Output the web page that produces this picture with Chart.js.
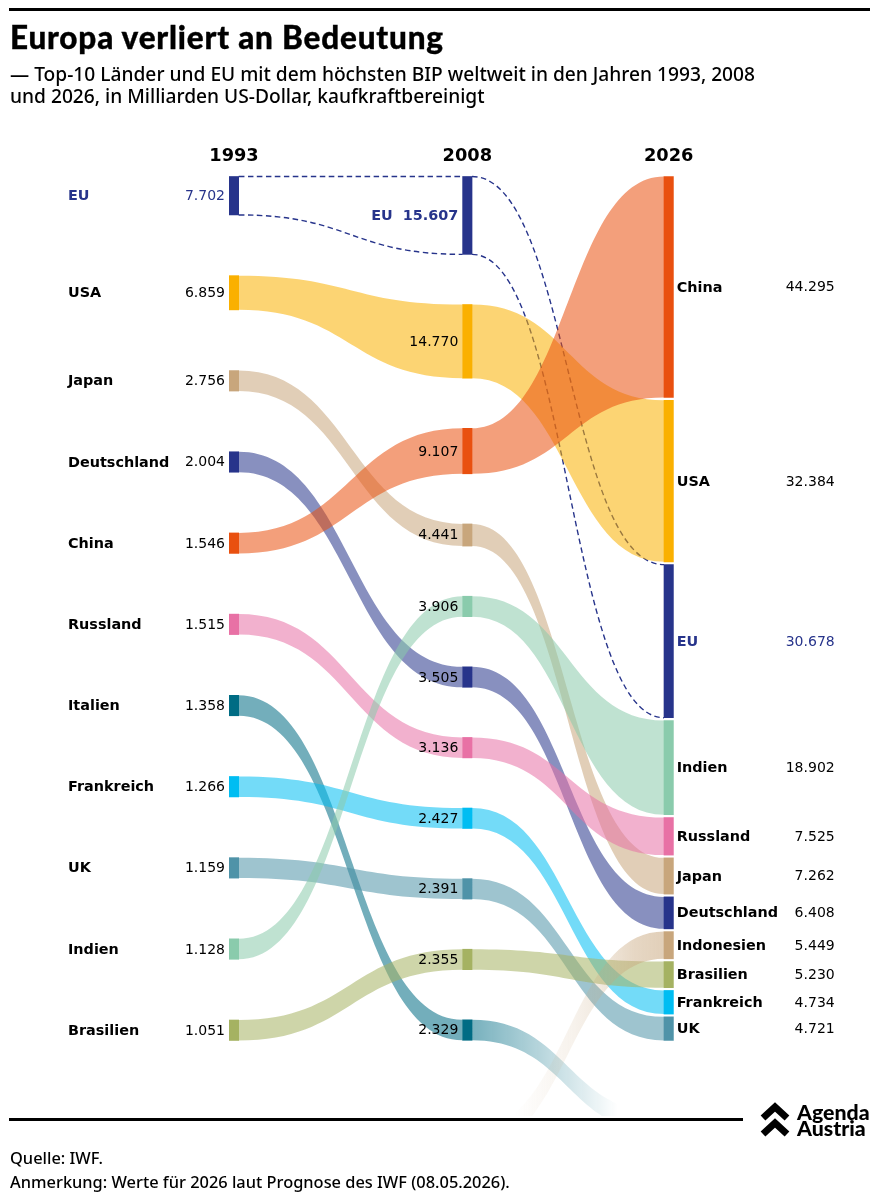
<!DOCTYPE html>
<html lang="de">
<head>
<meta charset="utf-8">
<title>Europa verliert an Bedeutung</title>
<script src="https://cdn.jsdelivr.net/npm/chart.js@4/dist/chart.umd.js"></script>
<style>
  html, body { margin: 0; padding: 0; background: #fff; }
  body { position: relative; width: 879px; height: 1200px; overflow: hidden; font-family: "Noto Sans", sans-serif; color: #000; }
  canvas { position: absolute; left: 0; top: 0; }
  .rule { position: absolute; background: #000; height: 3px; }
  .txt { position: absolute; white-space: nowrap; }
  h1 { position: absolute; left: 10px; top: 18px; margin: 0; font-family: Lato, sans-serif; font-size: 31.5px; letter-spacing: 0.8px; line-height: 38px; font-weight: 900; -webkit-text-stroke: 0.35px #000; white-space: nowrap; }
  .sub { left: 10px; top: 63px; font-size: 19.18px; line-height: 21.5px; font-weight: 500; }
  .foot { left: 10px; font-size: 16.4px; line-height: 20px; font-weight: 500; }
  .brand { left: 797px; top: 1105px; font-family: Lato, sans-serif; font-size: 21.3px; line-height: 15.5px; font-weight: 900; }
</style>
</head>
<body>
<canvas id="chart" width="879" height="1200"></canvas>
<div class="rule" style="left:9px;top:8px;width:861px"></div>
<h1>Europa verliert an Bedeutung</h1>
<div class="txt sub">— Top-10 Länder und EU mit dem höchsten BIP weltweit in den Jahren 1993, 2008<br>und 2026, in Milliarden US-Dollar, kaufkraftbereinigt</div>
<div class="rule" style="left:9px;top:1118px;width:734px"></div>
<svg style="position:absolute;left:755px;top:1098px" width="40" height="42" fill="none" stroke="#000" stroke-width="7">
  <polyline points="8,20 20,9 32,20"/>
  <polyline points="8,36 20,25 32,36"/>
</svg>
<div class="txt brand">Agenda<br>Austria</div>
<div class="txt foot" style="top:1148px">Quelle: IWF.</div>
<div class="txt foot" style="top:1172px">Anmerkung: Werte für 2026 laut Prognose des IWF (08.05.2026).</div>
<script>
const years = ["1993", "2008", "2026"]

const countries1993 = ["EU", "USA", "Japan", "Deutschland", "China", "Russland", "Italien", "Frankreich", "UK", "Indien", "Brasilien"]
const values1993 = [7702, 6859, 2756, 2004, 1546, 1515, 1358, 1266, 1159, 1128, 1051]

const countries2008 = ["EU", "USA", "China", "Japan", "Indien", "Deutschland", "Russland", "Frankreich", "UK", "Brasilien", "Italien"]
const values2008 = [15607, 14770, 9107, 4441, 3906, 3505, 3136, 2427, 2391, 2355, 2329]

const countries2026 = ["China", "USA", "EU", "Indien", "Russland", "Japan", "Deutschland", "Indonesien", "Brasilien", "Frankreich", "UK"]
const values2026 = [44295, 32384, 30678, 18902, 7525, 7262, 6408, 5449, 5230, 4734, 4721]

// colours by country
const colors = {
  EU: "#27348b", USA: "#fab000", Japan: "#c8a67c", Deutschland: "#27348b",
  China: "#e9500f", Russland: "#e871a5", Italien: "#006c84", Frankreich: "#00bdf2",
  UK: "#4f93a8", Indien: "#8acbac", Brasilien: "#a5b262", Indonesien: "#c8a67c"
}

// layout, in y scale units
const minNode = 4100                    // small nodes are drawn with this height
const gaps = [12170, 10050, 556]        // free space between nodes of a column
const columnX = [0, 1, 1.863]           // uneven on purpose, like the original
const offChart = {                      // rows that run out of the picture
  Italien: { col: 2, top: 187750, bottom: 191850 },
  Indonesien: { col: 1, top: 191000, bottom: 195100 }
}

const NODE_W = 9.4
const RIBBON_ALPHA = 0.55

function stack(names, values, gap) {
  let y = 0
  let out = {}
  for (let i = 0; i < names.length; i++) {
    const h = Math.max(values[i], minNode)
    out[names[i]] = { top: y, bottom: y + h, value: values[i] }
    y += h + gap
  }
  return out
}

const columns = [
  stack(countries1993, values1993, gaps[0]),
  stack(countries2008, values2008, gaps[1]),
  stack(countries2026, values2026, gaps[2])
]

function rgba(hex, a) {
  const n = parseInt(hex.slice(1), 16)
  return "rgba(" + (n >> 16) + "," + ((n >> 8) & 255) + "," + (n & 255) + "," + a + ")"
}

function formatValue(v) {
  return String(v).replace(/\B(?=(\d{3})+$)/g, ".")
}

function edge(ctx, x0, y0, x1, y1, move) {
  const mid = (x0 + x1) / 2
  if (move) ctx.moveTo(x0, y0)
  else ctx.lineTo(x0, y0)
  ctx.bezierCurveTo(mid, y0, mid, y1, x1, y1)
}

// one ribbon between two neighbouring columns
function drawRibbon(chart, name, col, fill) {
  const x = chart.scales.x, y = chart.scales.y, ctx = chart.ctx
  const a = columns[col][name] || offChart[name]
  const b = columns[col + 1][name] || offChart[name]
  if (!a || !b) return
  const x0 = x.getPixelForValue(columnX[col]) + NODE_W / 2
  const x1 = x.getPixelForValue(columnX[col + 1]) - NODE_W / 2
  if (name == "EU") {
    ctx.save()
    ctx.strokeStyle = colors.EU
    ctx.lineWidth = 1.4
    ctx.setLineDash([5.5, 3.5])
    ctx.beginPath()
    edge(ctx, x0, y.getPixelForValue(a.top), x1, y.getPixelForValue(b.top), true)
    edge(ctx, x0, y.getPixelForValue(a.bottom), x1, y.getPixelForValue(b.bottom), true)
    ctx.stroke()
    ctx.restore()
    return
  }
  ctx.beginPath()
  edge(ctx, x0, y.getPixelForValue(a.top), x1, y.getPixelForValue(b.top), true)
  // back along the lower edge
  const mid = (x0 + x1) / 2
  ctx.lineTo(x1, y.getPixelForValue(b.bottom))
  ctx.bezierCurveTo(mid, y.getPixelForValue(b.bottom), mid, y.getPixelForValue(a.bottom), x0, y.getPixelForValue(a.bottom))
  ctx.closePath()
  ctx.fillStyle = fill
  ctx.fill()
}

const ribbonPlugin = {
  id: "ribbons",
  beforeDatasetsDraw(chart) {
    const ctx = chart.ctx, area = chart.chartArea, x = chart.scales.x
    ctx.save()
    ctx.beginPath()
    ctx.rect(0, area.top - 2, chart.width, area.bottom - area.top + 2)
    ctx.clip()
    for (const col of [0, 1]) {
      const names = [countries1993, countries2008][col].slice()
      if (col == 1) names.push("Indonesien")
      for (const name of names) {
        let fill = rgba(colors[name], RIBBON_ALPHA)
        if (col == 1 && name == "Italien") {
          const left = x.getPixelForValue(columnX[1])
          const g = ctx.createLinearGradient(left, 0, left + 150, 0)
          g.addColorStop(0, rgba(colors[name], RIBBON_ALPHA))
          g.addColorStop(1, rgba(colors[name], 0))
          fill = g
        }
        if (col == 1 && name == "Indonesien") {
          const right = x.getPixelForValue(columnX[2])
          const g = ctx.createLinearGradient(right, 0, right - 155, 0)
          g.addColorStop(0, rgba(colors[name], RIBBON_ALPHA))
          g.addColorStop(0.22, rgba(colors[name], 0.45))
          g.addColorStop(0.43, rgba(colors[name], 0.25))
          g.addColorStop(0.6, rgba(colors[name], 0.15))
          g.addColorStop(1, rgba(colors[name], 0))
          fill = g
        }
        drawRibbon(chart, name, col, fill)
      }
    }
    ctx.restore()
  }
}

const labelPlugin = {
  id: "nodeLabels",
  afterDatasetsDraw(chart) {
    const ctx = chart.ctx, x = chart.scales.x, y = chart.scales.y
    const bold = "bold 14.4px 'DejaVu Sans'"
    const plain = "14px 'DejaVu Sans'"
    ctx.save()
    ctx.textBaseline = "middle"
    columns.forEach(function(col, c) {
      const px = x.getPixelForValue(columnX[c])
      for (const name in col) {
        const node = col[name]
        const py = (y.getPixelForValue(node.top) + y.getPixelForValue(node.bottom)) / 2 + 0.8
        const isEU = name == "EU"
        ctx.fillStyle = isEU ? colors.EU : "#000"
        if (c == 0) {
          ctx.textAlign = "left"
          ctx.font = bold
          ctx.fillText(name, px - 166, py)
          ctx.textAlign = "right"
          ctx.font = plain
          ctx.fillText(formatValue(node.value), px - 9, py)
        } else if (c == 1) {
          ctx.textAlign = "right"
          ctx.font = isEU ? bold : plain
          ctx.fillText((isEU ? "EU  " : "") + formatValue(node.value), px - 9, py)
        } else {
          ctx.textAlign = "left"
          ctx.font = bold
          ctx.fillText(name, px + 8, py)
          ctx.textAlign = "right"
          ctx.font = plain
          ctx.fillText(formatValue(node.value), px + 166, py)
        }
      }
    })
    ctx.restore()
  }
}

const datasets = columns.map(function(col, c) {
  const names = Object.keys(col)
  return {
    label: years[c],
    data: names.map(function(n) {
      return { x: columnX[c], y: [col[n].top, col[n].bottom] }
    }),
    backgroundColor: names.map(function(n) { return colors[n] }),
    barThickness: NODE_W,
    grouped: false,
    clip: false
  }
})

new Chart(document.getElementById("chart"), {
  type: "bar",
  data: { datasets: datasets },
  plugins: [ribbonPlugin, labelPlugin],
  options: {
    responsive: false,
    animation: false,
    devicePixelRatio: 1,
    layout: {
      autoPadding: false,
      padding: { top: 146.5, bottom: 84, left: 234, right: 210.3 }
    },
    plugins: {
      legend: { display: false },
      title: { display: false },
      tooltip: { enabled: false }
    },
    scales: {
      x: {
        type: "linear",
        position: "top",
        offset: false,
        min: columnX[0],
        max: columnX[2],
        grid: { display: false, drawTicks: false },
        border: { display: false },
        afterFit: function(scale) { scale.height = 30 },
        afterBuildTicks: function(scale) {
          scale.ticks = columnX.map(function(v) { return { value: v } })
        },
        ticks: {
          autoSkip: false,
          maxRotation: 0,
          padding: 9,
          color: "#000",
          font: { family: "'DejaVu Sans'", size: 17.8, weight: "bold" },
          callback: function(value) { return years[columnX.indexOf(value)] }
        }
      },
      y: {
        type: "linear",
        display: false,
        reverse: true,
        min: 0,
        max: 188300
      }
    }
  }
})
</script>
</body>
</html>
